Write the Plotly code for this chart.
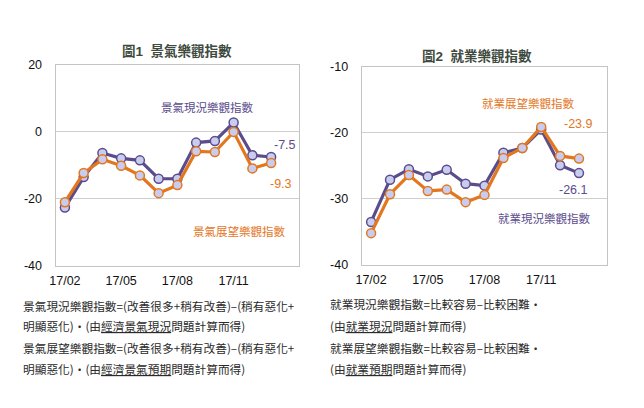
import plotly.graph_objects as go

months = ["17/02", "17/03", "17/04", "17/05", "17/06", "17/07", "17/08",
          "17/09", "17/10", "17/11", "17/12", "18/01"]
tick_labels = ["17/02", "17/05", "17/08", "17/11"]

# Chart 1: 景氣樂觀指數
biz_current = [-22.6, -13.5, -6.3, -7.9, -8.5, -14.0, -14.0, -3.2, -2.7, 2.8, -7.0, -7.5]
biz_outlook = [-21.0, -12.3, -8.2, -10.1, -13.0, -18.3, -15.9, -5.8, -6.0, 0.0, -10.9, -9.3]
biz_yticks = [20, 0, -20, -40]
biz_yticklabels = ["20", "0", "-20", "-40"]

# Chart 2: 就業樂觀指數
job_current = [-33.5, -27.1, -25.5, -26.6, -25.6, -27.7, -28.0, -23.0, -22.3, -19.5, -24.9, -26.1]
job_outlook = [-35.2, -29.3, -26.4, -28.8, -28.6, -30.5, -29.4, -23.8, -22.3, -19.1, -23.5, -23.9]
job_yticks = [-10, -20, -30, -40]
job_yticklabels = ["-10", "-20", "-30", "-40"]

PURPLE = "#5b4c8c"
ORANGE = "#e3771f"
MARKER_FILL = "#c8cdef"
FONT = "Arial, Liberation Sans, Noto Sans CJK TC, sans-serif"
CJK = "Noto Sans CJK TC, Noto Sans CJK SC, sans-serif"

xs = list(range(len(months)))
fig = go.Figure()

def add_series(y, color, xa, ya):
    fig.add_trace(go.Scatter(
        x=xs, y=y, mode="lines+markers", xaxis=xa, yaxis=ya,
        line=dict(color=color, width=3.2),
        marker=dict(size=9, color=MARKER_FILL, line=dict(color=color, width=1.5)),
        showlegend=False, hoverinfo="skip"))

add_series(biz_current, PURPLE, "x", "y")
add_series(biz_outlook, ORANGE, "x", "y")
add_series(job_current, PURPLE, "x2", "y2")
add_series(job_outlook, ORANGE, "x2", "y2")

W, H = 644, 408
def px_x(p): return p / W
def px_y(p): return 1 - p / H

xaxis_common = dict(
    range=[-0.5, 12.5], tickmode="array", tickvals=[0, 3, 6, 9], ticktext=tick_labels,
    showgrid=False, zeroline=False, showline=True, linecolor="#c4c4c4", linewidth=1,
    mirror=True, ticks="", tickfont=dict(family=FONT, size=12.5, color="#111"),
    ticklabelstandoff=3, fixedrange=True)
yaxis_common = dict(
    showgrid=True, gridcolor="#cfcfcf", gridwidth=1, zeroline=False, showline=True,
    linecolor="#c4c4c4", linewidth=1, mirror=True, ticks="", tickmode="array",
    tickfont=dict(family=FONT, size=12.5, color="#111"), ticklabelstandoff=10, fixedrange=True)

fig.update_layout(
    width=W, height=H, margin=dict(l=0, r=0, t=0, b=0),
    paper_bgcolor="white", plot_bgcolor="white",
    font=dict(family=FONT, size=11, color="#333"),
    xaxis=dict(domain=[px_x(50), px_x(296)], anchor="y", **xaxis_common),
    yaxis=dict(domain=[px_y(268), px_y(60)], anchor="x", range=[-40, 20],
               tickvals=biz_yticks, ticktext=biz_yticklabels, **yaxis_common),
    xaxis2=dict(domain=[px_x(359), px_x(607)], anchor="y2", **xaxis_common),
    yaxis2=dict(domain=[px_y(267), px_y(62)], anchor="x2", range=[-40, -10],
                tickvals=job_yticks, ticktext=job_yticklabels, **yaxis_common),
)

anns = []
def ann(text, x, y, color, size=11.5, bold=False, family=CJK, xanchor="center"):
    if bold:
        text = "<b>" + text + "</b>"
    anns.append(dict(text=text, x=px_x(x), y=px_y(y), xref="paper", yref="paper",
                     xanchor=xanchor, yanchor="middle", showarrow=False,
                     font=dict(family=family, size=size, color=color)))

# Titles
ann("圖1  景氣樂觀指數", 173, 46, "#3e4a3e", size=13.5, bold=True, family=FONT)
ann("圖2  就業樂觀指數", 475, 51, "#3e4a3e", size=13.5, bold=True, family=FONT)

# Chart 1 labels
ann("景氣現況樂觀指數", 203, 104, PURPLE)
ann("-7.5", 282, 143, PURPLE, size=12.5, family=FONT)
ann("-9.3", 278, 183, ORANGE, size=12.5, family=FONT)
ann("景氣展望樂觀指數", 235, 232, ORANGE)

# Chart 2 labels
ann("就業展望樂觀指數", 527, 99, ORANGE)
ann("-23.9", 578, 121, ORANGE, size=12.5, family=FONT)
ann("-26.1", 573, 189, PURPLE, size=12.5, family=FONT)
ann("就業現況樂觀指數", 543, 218, PURPLE)

# Footnotes
NOTE = "#2a2a2a"
FS = 11.7
ann("景氣現況樂觀指數=(改善很多+稍有改善)–(稍有惡化+", 15, 309, NOTE, size=FS, xanchor="left")
ann("明顯惡化)・(由<u>經濟景氣現況</u>問題計算而得)", 15, 330, NOTE, size=FS, xanchor="left")
ann("景氣展望樂觀指數=(改善很多+稍有改善)–(稍有惡化+", 15, 353, NOTE, size=FS, xanchor="left")
ann("明顯惡化)・(由<u>經濟景氣預期</u>問題計算而得)", 15, 374, NOTE, size=FS, xanchor="left")

ann("就業現況樂觀指數=比較容易–比較困難・", 325, 307, NOTE, size=FS, xanchor="left")
ann("(由<u>就業現況</u>問題計算而得)", 325, 330, NOTE, size=FS, xanchor="left")
ann("就業展望樂觀指數=比較容易–比較困難・", 325, 353, NOTE, size=FS, xanchor="left")
ann("(由<u>就業預期</u>問題計算而得)", 325, 374, NOTE, size=FS, xanchor="left")

fig.update_layout(annotations=anns)
fig.write_html("out.html", config={"displayModeBar": False},
               post_script="document.body.style.margin='0';document.body.style.overflow='hidden';")
